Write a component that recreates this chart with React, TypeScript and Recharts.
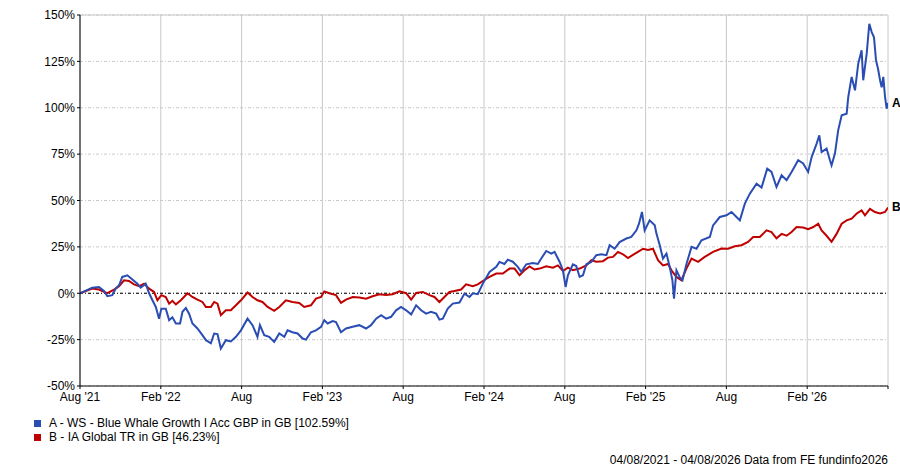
import React from 'react';
import { LineChart, Line, XAxis, YAxis, CartesianGrid, ReferenceLine, ReferenceDot } from 'recharts';

// x = months since 04/08/2021, y = cumulative return in %
const fundA: number[][] = [
  [0, 0], [0.91, 3], [1.41, 3.4], [1.78, 1.2], [2.03, -1.6], [2.4, -1], [2.65, 2.5], [2.9, 4.3], [3.14, 8.8], [3.52, 9.7],
  [3.89, 7.4], [4.26, 5.2], [4.51, 3], [4.88, 5.2], [5.13, 0], [5.38, -3.8], [5.63, -7.4], [5.87, -13.7], [6.04, -8.3], [6.37, -8.3],
  [6.62, -14.5], [6.86, -13], [7.12, -16.3], [7.43, -16.3], [7.61, -10], [7.86, -7.9], [8.1, -11], [8.35, -16.3], [8.72, -19], [9.09, -22.6],
  [9.35, -25.3], [9.72, -27], [9.96, -21.7], [10.21, -22], [10.46, -29.8], [10.83, -25.3], [11.2, -26], [11.58, -23.5], [11.95, -20], [12.44, -13.7],
  [12.81, -17.2], [13.18, -23.5], [13.36, -17.2], [13.68, -22.6], [14.05, -23.5], [14.42, -26.2], [14.8, -21.7], [15.17, -23.5], [15.41, -20], [15.78, -21],
  [16.16, -21.7], [16.53, -24.4], [16.78, -25], [17.15, -21], [17.52, -20], [17.9, -18.1], [18.14, -14.5], [18.39, -16.3], [18.76, -15], [19.01, -15.5],
  [19.38, -21], [19.75, -19], [20.25, -18.1], [20.74, -17.2], [21.24, -19], [21.61, -17.2], [21.99, -13.7], [22.36, -11.8], [22.73, -13.7], [23.1, -12.7],
  [23.47, -9.2], [23.84, -7.4], [24.22, -9.2], [24.59, -11.4], [24.96, -6.5], [25.33, -9.2], [25.7, -11], [26.07, -10], [26.45, -11], [26.69, -14.2],
  [26.94, -13.7], [27.31, -8.3], [27.68, -5.6], [28.18, -5], [28.55, -0.2], [28.92, -2], [29.17, 0], [29.54, -0.5], [29.91, 5.2], [30.41, 11.5],
  [30.91, 14.2], [31.15, 16.9], [31.52, 15.8], [31.77, 18.1], [32.14, 17], [32.51, 14.2], [32.77, 11.5], [33.14, 15.6], [33.63, 16.3], [34, 15.8],
  [34.25, 18.7], [34.62, 22.8], [35, 21.4], [35.24, 22.3], [35.61, 17], [35.86, 12.4], [36.06, 3.4], [36.23, 9.7], [36.6, 15.6], [36.85, 14.7],
  [37.1, 8.8], [37.35, 9.7], [37.6, 15.6], [37.97, 16.9], [38.34, 20.5], [38.71, 21], [39.09, 20.5], [39.33, 25.9], [39.7, 24], [40.07, 27.6],
  [40.57, 29.5], [40.94, 30.4], [41.32, 33.9], [41.51, 37.5], [41.73, 43.8], [41.93, 33.9], [42.3, 39.3], [42.68, 36.6], [42.8, 32.3], [43.05, 25.9],
  [43.29, 18.7], [43.55, 21.4], [43.79, 14.2], [43.99, 7], [44.11, -2.9], [44.29, 12.4], [44.54, 8.5], [44.74, 7], [45.03, 15.6], [45.41, 25],
  [45.78, 24], [46.15, 28.6], [46.77, 30.3], [47.01, 36.6], [47.51, 41.1], [48.01, 42], [48.38, 43.8], [48.75, 41.1], [49, 39.3], [49.37, 48.3],
  [49.74, 53.7], [50.24, 59.1], [50.61, 57], [51.03, 67.2], [51.35, 65.4], [51.72, 57.3], [52.1, 63.6], [52.47, 61], [52.84, 65.4], [53.33, 71.7],
  [53.7, 70], [54.07, 65.4], [54.33, 73.4], [54.7, 80.7], [54.9, 85.1], [55.07, 76.1], [55.44, 78], [55.69, 71.7], [55.81, 69], [56.06, 75.3],
  [56.3, 87.8], [56.56, 95.9], [56.93, 96.8], [57.05, 105.8], [57.3, 116.6], [57.55, 109.4], [57.79, 123.8], [58.04, 131], [58.16, 114.8], [58.42, 129.3],
  [58.61, 145.3], [58.79, 140.8], [58.96, 138], [59.11, 125.5], [59.26, 121], [59.41, 114.8], [59.53, 111], [59.65, 116.6], [59.78, 105.8], [59.9, 99.5],
  [60, 102.59],
];

const sectorB: number[][] = [
  [0, 0], [0.91, 2.5], [1.41, 2], [1.78, 0.7], [2.03, 0], [2.53, 2], [2.9, 3.8], [3.27, 7], [3.64, 6.6], [4.01, 4.8],
  [4.39, 3.8], [4.76, 5.2], [5.13, 2.5], [5.5, 0.7], [5.75, -3.8], [6.04, -1], [6.37, -2], [6.62, -5.6], [6.86, -4.1], [7.12, -6],
  [7.49, -3.8], [7.98, 0], [8.35, -2], [8.72, -3.4], [9.09, -4.7], [9.35, -7.4], [9.72, -7.4], [9.96, -4.7], [10.21, -5.6], [10.46, -11.8],
  [10.83, -9.2], [11.2, -9.2], [11.58, -6.5], [11.95, -3.8], [12.44, 0.4], [12.81, -2], [13.18, -3.8], [13.55, -4.7], [13.93, -7.4], [14.42, -9.5],
  [14.8, -7.4], [15.29, -3.8], [15.78, -4.7], [16.28, -5.2], [16.65, -7.4], [17.15, -6.5], [17.52, -2.9], [17.9, -2], [18.14, 1], [18.51, 0],
  [19.01, -1], [19.38, -5.2], [19.75, -3.4], [20.25, -2], [20.74, -2.3], [21.24, -2.9], [21.73, -1.6], [22.23, -0.5], [22.73, -1], [23.22, -0.5],
  [23.72, 1], [24.22, 0], [24.59, -3.4], [24.96, 0.2], [25.45, 0.7], [25.95, -1], [26.32, -2], [26.69, -4.7], [27.06, -2], [27.43, 0.7],
  [27.81, 1.2], [28.3, 2], [28.67, 4.8], [29.17, 3.8], [29.54, 4.8], [29.91, 6.6], [30.41, 8.8], [30.91, 10.6], [31.4, 10.6], [31.9, 13.3],
  [32.27, 13.3], [32.64, 9.7], [33.01, 12.4], [33.38, 14.5], [33.75, 12.8], [34.13, 13.3], [34.62, 14.5], [35.12, 13.8], [35.49, 15], [35.86, 12],
  [36.23, 13.8], [36.6, 12.4], [37.1, 13.3], [37.6, 15], [37.97, 17.8], [38.34, 17], [38.83, 17.3], [39.21, 19.2], [39.58, 19.6], [39.95, 22.3],
  [40.32, 21], [40.69, 19], [41.06, 20.7], [41.43, 22.3], [41.81, 24], [42.18, 23.3], [42.55, 24], [42.92, 17.8], [43.29, 15], [43.67, 15.8],
  [43.92, 12.4], [44.29, 8.8], [44.66, 7], [45.03, 13.3], [45.41, 18.7], [45.9, 16.9], [46.39, 19.6], [47.01, 22.3], [47.64, 24.1], [48.13, 24],
  [48.62, 25.3], [49.12, 25.9], [49.61, 27.7], [49.99, 30.3], [50.48, 30.3], [50.98, 33.9], [51.35, 33], [51.72, 29.6], [52.1, 32], [52.47, 31],
  [52.84, 33], [53.21, 35.7], [53.7, 35.4], [54.07, 34.5], [54.45, 35.7], [54.82, 37.5], [55.07, 33.9], [55.44, 31], [55.81, 27.7], [56.18, 32],
  [56.56, 37.5], [56.93, 39.3], [57.3, 40.2], [57.68, 43], [58.04, 44.7], [58.29, 42], [58.66, 45.5], [59.03, 43.8], [59.41, 43], [59.78, 43.8],
  [60, 46.23],
];

const xTicks = [0, 6, 12, 18, 24, 30, 36, 42, 48, 54, 60];
const xTickLabels = ["Aug '21", "Feb '22", 'Aug', "Feb '23", 'Aug', "Feb '24", 'Aug', "Feb '25", 'Aug', "Feb '26", ''];
const yTicks = [-50, -25, 0, 25, 50, 75, 100, 125, 150];

const legendItems = [
  { name: 'A - WS - Blue Whale Growth I Acc GBP in GB [102.59%]', color: '#2a4db3' },
  { name: 'B - IA Global TR in GB [46.23%]', color: '#c00000' },
];
const footerText = '04/08/2021 - 04/08/2026 Data from FE fundinfo2026';

const FONT = '"Liberation Sans", Arial, sans-serif';
const GRID = '#c8c8c8';

const toRows = (pts: number[][]) => pts.map(([t, v]) => ({ t, v }));

const App: React.FC = () => {
  const rowsA = toRows(fundA);
  const rowsB = toRows(sectorB);
  const lastA = rowsA[rowsA.length - 1];
  const lastB = rowsB[rowsB.length - 1];

  const endLabel = (text: string) => (props: any) => {
    const { viewBox } = props;
    if (!viewBox) return null;
    return (
      <text x={viewBox.x + 4} y={viewBox.y} dy={4} fontSize={12} fontWeight="bold" fontFamily={FONT} fill="#000">
        {text}
      </text>
    );
  };

  return (
    <div style={{ position: 'absolute', left: 0, top: 0, width: 900, height: 467, background: '#fff', fontFamily: FONT }}>
      <LineChart width={900} height={420} margin={{ top: 15, right: 12, bottom: 4, left: 0 }}>
        <CartesianGrid horizontal={false} stroke={GRID} verticalValues={xTicks} />
        <CartesianGrid vertical={false} stroke={GRID} strokeDasharray="3 2 1 2" horizontalValues={yTicks} />
        <XAxis
          type="number"
          dataKey="t"
          domain={[0, 60]}
          ticks={xTicks}
          tickFormatter={(v: number) => xTickLabels[xTicks.indexOf(v)] ?? ''}
          allowDataOverflow
          height={30}
          tickSize={3}
          tickMargin={3}
          axisLine={{ stroke: '#000' }}
          tickLine={{ stroke: '#000' }}
          tick={{ fill: '#000', fontSize: 12, fontFamily: FONT }}
        />
        <YAxis
          type="number"
          domain={[-50, 150]}
          ticks={yTicks}
          tickFormatter={(v: number) => `${v}%`}
          width={80}
          tickSize={3}
          tickMargin={2}
          axisLine={{ stroke: '#000' }}
          tickLine={{ stroke: '#000' }}
          tick={{ fill: '#000', fontSize: 12, fontFamily: FONT }}
        />
        <ReferenceLine y={150} stroke={GRID} />
        <ReferenceLine y={0} stroke="#000" strokeDasharray="3 2 1 2" />
        <Line data={rowsB} dataKey="v" type="linear" stroke="#c00000" strokeWidth={2} dot={false} isAnimationActive={false} />
        <Line data={rowsA} dataKey="v" type="linear" stroke="#2a4db3" strokeWidth={2} dot={false} isAnimationActive={false} />
        <ReferenceDot x={lastA.t} y={lastA.v} r={0} stroke="none" label={endLabel('A')} ifOverflow="visible" />
        <ReferenceDot x={lastB.t} y={lastB.v} r={0} stroke="none" label={endLabel('B')} ifOverflow="visible" />
      </LineChart>
      {legendItems.map((item, i) => (
        <div key={item.name} style={{ position: 'absolute', left: 34, top: 416 + i * 14, height: 14, display: 'flex', alignItems: 'center', fontSize: 12, lineHeight: '14px', color: '#000' }}>
          <span style={{ display: 'inline-block', width: 7, height: 7, background: item.color, marginRight: 8 }} />
          <span>{item.name}</span>
        </div>
      ))}
      <div style={{ position: 'absolute', right: 12, top: 453, fontSize: 12, lineHeight: '14px', color: '#000', whiteSpace: 'nowrap' }}>
        {footerText}
      </div>
    </div>
  );
};

export default App;
